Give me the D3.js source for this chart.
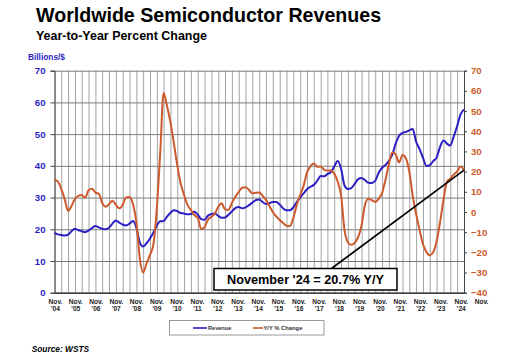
<!DOCTYPE html>
<html><head><meta charset="utf-8">
<script src="https://cdn.jsdelivr.net/npm/d3@7"></script>
<style>
html,body{margin:0;padding:0;background:#fff;}
svg{display:block;font-family:"Liberation Sans",Arial,sans-serif;}
</style></head>
<body><svg id="c" width="506" height="358"></svg>
<script>
// ---- data (bimonthly, Nov 2004 .. Nov 2024) ----
const startMonth = "2004-11";
const endMonth = "2024-11";
const revenue = [
 18.9,
 18.4, 18.2, 18.0, 18.3, 19.4, 20.2,
 19.7, 19.4, 19.1, 19.6, 20.4, 21.0,
 20.6, 20.2, 20.0, 20.5, 21.8, 22.8,
 22.1, 21.5, 21.2, 21.8, 22.6, 20.5,
 15.8, 14.6, 15.6, 17.1, 19.0, 21.2,
 22.5, 22.6, 24.0, 25.2, 26.0, 25.7,
 25.1, 25.0, 24.7, 24.8, 25.5, 24.6,
 23.2, 23.0, 24.3, 24.8, 25.0, 24.2,
 23.6, 23.7, 24.6, 25.6, 26.7, 27.0,
 26.6, 26.9, 27.6, 28.4, 29.2, 29.4,
 28.6, 28.0, 28.2, 28.6, 28.6, 27.8,
 26.6, 26.0, 26.0, 26.9, 28.6, 30.0,
 31.3, 32.6, 33.4, 34.0, 35.3, 36.8,
 36.7, 37.4, 38.0, 39.8, 41.5, 39.0,
 33.8, 32.7, 33.0, 34.3, 35.8, 36.2,
 35.5, 34.7, 34.6, 35.3, 37.8, 39.4,
 40.3, 41.5, 43.5, 47.0, 49.5, 50.4,
 50.7, 51.2, 51.6, 47.6, 45.3, 42.5,
 40.0, 40.2, 41.5, 42.6, 46.0, 48.0,
 47.0, 46.4, 49.2, 52.5, 56.2, 57.8
];
const yoy = [
 16.0,
 15.0, 11.5, 6.5, 0.5, 3.0, 6.5,
 8.0, 8.4, 7.0, 10.8, 11.5, 9.6,
 9.0, 4.5, 2.6, 3.8, 5.6, 3.5,
 1.8, 3.5, 7.2, 7.4, 4.0, -5.0,
 -23.0, -30.0, -25.5, -21.3, -16.0, 2.0,
 30.0, 59.0, 52.5, 44.5, 34.0, 23.0,
 14.0, 8.5, 3.5, 1.0, -1.5, -3.0,
 -8.5, -7.5, -3.8, -2.4, -0.8, 2.6,
 4.3, 1.2, 1.0, 4.5, 7.5, 10.0,
 12.0, 12.3, 11.0, 9.2, 9.5, 9.6,
 8.0, 6.0, 3.0, 0.0, -2.2, -4.0,
 -5.5, -6.8, -7.0, -3.0, 3.5, 8.5,
 13.0, 19.5, 22.6, 24.0, 22.4, 22.5,
 21.0, 20.5, 20.5, 19.0, 15.0, 8.0,
 -9.0, -15.0, -16.3, -15.3, -12.5, -6.5,
 3.5, 6.5, 5.8, 5.0, 6.5, 9.5,
 16.0, 23.5, 29.5, 28.5, 24.5, 28.2,
 26.5, 20.0, 8.0, -1.0, -9.0, -16.0,
 -19.8, -21.5, -20.0, -14.5, -5.0, 6.0,
 15.0, 16.5, 18.5, 20.0, 22.5, 20.7
];
const yearLabels = ["'04","'05","'06","'07","'08","'09","'10","'11","'12","'13","'14","'15","'16","'17","'18","'19","'20","'21","'22","'23","'24"];
const leftTicks = [0,10,20,30,40,50,60,70];
const rightTicks = [-40,-30,-20,-10,0,10,20,30,40,50,60,70];
const seriesNames = ["Revenue","Y/Y % Change"];
const titleText = "Worldwide Semiconductor Revenues";
const subtitleText = "Year-to-Year Percent Change";
const unitText = "Billions/$";
const sourceText = "Source: WSTS";
const calloutText = "November '24 = 20.7% Y/Y";

// ---- setup ----
const parse = d3.timeParse("%Y-%m");
const t0 = parse(startMonth), t1 = parse(endMonth);
const dates = d3.timeMonth.range(t0, d3.timeMonth.offset(t1, 1), 2);
const blue = "#2b1fc4", orange = "#cc5a2c";
const svg = d3.select("#c");
const L = 54.5, R = 464, T = 70.7, B = 292.7;
const x = d3.scaleTime().domain([t0, t1]).range([L, R]);
const yL = d3.scaleLinear().domain([0, 70]).range([B, T]);
const yR = d3.scaleLinear().domain([-40, 70]).range([B, T]);

svg.append("rect").attr("width",506).attr("height",358).attr("fill","#fff");

function fitText(sel, w){
  const n = sel.node(); const cur = n.getComputedTextLength();
  const fs = parseFloat(sel.attr("font-size"));
  sel.attr("font-size", (fs * w / cur).toFixed(2));
}

// titles
fitText(svg.append("text").attr("x",36).attr("y",22).attr("font-size",18).attr("font-weight","bold").attr("fill","#000").text(titleText), 345);
fitText(svg.append("text").attr("x",36).attr("y",40).attr("font-size",11.5).attr("font-weight","bold").attr("fill","#000").text(subtitleText), 171);
fitText(svg.append("text").attr("x",28).attr("y",59.5).attr("font-size",7.5).attr("font-weight","bold").attr("fill",blue).text(unitText), 37);

// vertical gridlines every 4 months
const vgrid = d3.timeMonth.range(t0, d3.timeMonth.offset(t1, 1), 4);
svg.append("g").attr("transform",`translate(0,${B})`)
  .call(d3.axisBottom(x).tickValues(vgrid).tickSize(-(B-T)).tickFormat(""))
  .call(g=>{g.select(".domain").remove(); g.selectAll("line").attr("stroke","#a3a3a3").attr("stroke-width",1);});

// horizontal gridlines (left axis)
svg.append("g").attr("transform",`translate(${L},0)`)
  .call(d3.axisLeft(yL).tickValues(leftTicks).tickSize(-(R-L)).tickFormat(""))
  .call(g=>{g.select(".domain").remove(); g.selectAll("line").attr("stroke","#7d7d7d").attr("stroke-width",1);});

// left axis
svg.append("g").attr("transform",`translate(${L},0)`)
  .call(d3.axisLeft(yL).tickValues(leftTicks).tickSize(4).tickPadding(5))
  .call(g=>{
    g.select(".domain").attr("stroke","#444").attr("stroke-width",1);
    g.selectAll("line").attr("stroke","#444");
    g.selectAll("text").attr("fill",blue).attr("font-size",9.6).attr("font-weight","bold")
     .attr("font-family","'Liberation Sans',Arial,sans-serif");
  });

// right axis
svg.append("g").attr("transform",`translate(${R},0)`)
  .call(d3.axisRight(yR).tickValues(rightTicks).tickSize(3).tickPadding(4))
  .call(g=>{
    g.select(".domain").attr("stroke","#444").attr("stroke-width",1);
    g.selectAll("line").attr("stroke","#444");
    g.selectAll("text").attr("fill",orange).attr("font-size",9.6).attr("font-weight","bold")
     .attr("font-family","'Liberation Sans',Arial,sans-serif");
  });

// bottom axis line
svg.append("g").attr("transform",`translate(0,${B})`)
  .call(d3.axisBottom(x).tickValues([]).tickSizeOuter(0))
  .call(g=>g.select(".domain").attr("stroke","#222").attr("stroke-width",1.2));

// year labels
const novs = d3.timeYear.range(d3.timeYear.floor(t0), d3.timeYear.offset(t1,1)).map(d=>d3.timeMonth.offset(d,10));
const xl = d3.scaleTime().domain([t0, t1]).range([55.5, 461.3]);
const lab = svg.append("g").attr("font-size",6.6).attr("font-weight","bold").attr("fill","#222").attr("text-anchor","middle");
novs.forEach((d,i)=>{
  lab.append("text").attr("x",xl(d)).attr("y",304.3).text("Nov.");
  lab.append("text").attr("x",xl(d)).attr("y",311.3).text(yearLabels[i]);
});

// lines
const revLine = d3.line().x((d,i)=>x(dates[i])).y(d=>yL(d)).curve(d3.curveMonotoneX);
const yoyLine = d3.line().x((d,i)=>x(dates[i])).y(d=>yR(d)).curve(d3.curveMonotoneX);
svg.append("path").attr("d",revLine(revenue)).attr("fill","none").attr("stroke",blue).attr("stroke-width",2).attr("stroke-linejoin","round");
svg.append("path").attr("d",yoyLine(yoy)).attr("fill","none").attr("stroke",orange).attr("stroke-width",2).attr("stroke-linejoin","round");

// callout
const lastX = x(dates[dates.length-1]), lastY = yR(yoy[yoy.length-1]);
svg.append("line").attr("x1",331.5).attr("y1",268.5).attr("x2",lastX).attr("y2",lastY).attr("stroke","#000").attr("stroke-width",1.6);
svg.append("rect").attr("x",214).attr("y",268.5).attr("width",183).attr("height",21.5).attr("fill","#fff").attr("stroke","#000").attr("stroke-width",1.5);
fitText(svg.append("text").attr("x",305.5).attr("y",283.6).attr("text-anchor","middle").attr("font-size",12.7).attr("font-weight","bold").attr("fill","#000").text(calloutText), 157);

// legend
svg.append("rect").attr("x",169.5).attr("y",320.5).attr("width",154.5).attr("height",14.5).attr("fill","#fff").attr("stroke","#999").attr("stroke-width",1);
svg.append("line").attr("x1",193).attr("x2",207).attr("y1",328).attr("y2",328).attr("stroke",blue).attr("stroke-width",1.6);
svg.append("text").attr("x",208).attr("y",330).attr("font-size",5.6).attr("font-weight","bold").attr("fill","#333").text(seriesNames[0]);
svg.append("line").attr("x1",253).attr("x2",263).attr("y1",328).attr("y2",328).attr("stroke",orange).attr("stroke-width",1.6);
svg.append("text").attr("x",263.5).attr("y",330).attr("font-size",5.8).attr("font-weight","bold").attr("fill","#333").text(seriesNames[1]);

// source
fitText(svg.append("text").attr("x",31.7).attr("y",352).attr("font-size",8.6).attr("font-weight","bold").attr("font-style","italic").attr("fill","#000").text(sourceText), 57.6);
</script></body></html>
